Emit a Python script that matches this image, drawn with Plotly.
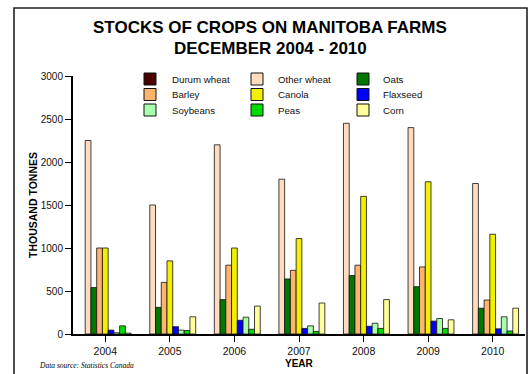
import plotly.graph_objects as go

# Year-end stocks on Manitoba farms, thousand tonnes
years = ["2004", "2005", "2006", "2007", "2008", "2009", "2010"]

durum_wheat = [0, 0, 0, 0, 0, 0, 0]
other_wheat = [2250, 1500, 2200, 1800, 2450, 2400, 1750]
oats = [540, 310, 400, 640, 680, 550, 300]
barley = [1000, 600, 800, 740, 800, 780, 395]
canola = [1000, 850, 1000, 1110, 1600, 1770, 1160]
flaxseed = [45, 85, 160, 65, 90, 150, 60]
soybeans = [15, 45, 195, 95, 125, 180, 200]
peas = [95, 40, 55, 30, 65, 65, 35]
corn = [10, 200, 325, 360, 400, 165, 300]

y_ticks = [0, 500, 1000, 1500, 2000, 2500, 3000]

# (name, values, fill colour) in bar order within each year
series = [
    ("Durum wheat", durum_wheat, "#4a0000"),
    ("Other wheat", other_wheat, "#ffdcc0"),
    ("Oats", oats, "#007800"),
    ("Barley", barley, "#ffb46e"),
    ("Canola", canola, "#f0f000"),
    ("Flaxseed", flaxseed, "#0000ff"),
    ("Soybeans", soybeans, "#aaffaa"),
    ("Peas", peas, "#00dc00"),
    ("Corn", corn, "#ffff99"),
]

# legend grid: rows of series names
legend_rows = [
    ["Durum wheat", "Other wheat", "Oats"],
    ["Barley", "Canola", "Flaxseed"],
    ["Soybeans", "Peas", "Corn"],
]

W, H = 529, 374
L, R, T, B = 73, 4, 76, 40
PW, PH = W - L - R, H - T - B


def px(x):
    return (x - L) / PW


def py(y):
    return (H - B - y) / PH


SANS = "Liberation Sans, Arial, sans-serif"

fig = go.Figure()
for name, vals, color in series:
    # no outline on empty bars so they leave no stub at the baseline
    widths = [0.8 if v > 0 else 0 for v in vals]
    fig.add_trace(go.Bar(
        x=years, y=vals, name=name,
        marker=dict(color=color, line=dict(color="#111111", width=widths)),
        showlegend=False,
    ))

shapes = [
    # outer frame (bottom edge runs off the page)
    dict(type="rect", xref="paper", yref="paper",
         x0=px(14), x1=px(527), y0=py(390), y1=py(8),
         line=dict(color="#222222", width=1.6), fillcolor="rgba(0,0,0,0)", layer="below"),
]
annotations = [
    dict(text="<b>STOCKS OF CROPS ON MANITOBA FARMS</b>", x=px(270), y=py(28),
         font=dict(family=SANS, size=17, color="black")),
    dict(text="<b>DECEMBER 2004 - 2010</b>", x=px(270), y=py(48),
         font=dict(family=SANS, size=17, color="black")),
    dict(text="<b>THOUSAND TONNES</b>", x=px(33), y=py(205), textangle=-90,
         font=dict(family=SANS, size=10.5, color="black")),
    dict(text="<b>YEAR</b>", x=px(299), y=py(363),
         font=dict(family=SANS, size=10, color="black")),
    dict(text="<i>Data source: Statistics Canada</i>", x=px(37), y=py(365), xanchor="left",
         font=dict(family="Liberation Serif, Times New Roman, serif", size=7.5, color="black")),
]

colors = {name: color for name, _, color in series}
col_swatch_x = [144, 251, 357]
col_text_x = [170, 276, 381]
row_y = [79, 94.5, 110]
for r, row in enumerate(legend_rows):
    for c, name in enumerate(row):
        sx, cy = col_swatch_x[c], row_y[r]
        shapes.append(dict(type="rect", xref="paper", yref="paper",
                           x0=px(sx), x1=px(sx + 12), y0=py(cy + 6), y1=py(cy - 6),
                           line=dict(color="#111111", width=1), fillcolor=colors[name]))
        annotations.append(dict(text=name, x=px(col_text_x[c]), y=py(cy), xanchor="left",
                                font=dict(family=SANS, size=9.7, color="#111111")))

for a in annotations:
    a.setdefault("xanchor", "center")
    a.update(xref="paper", yref="paper", yanchor="middle", showarrow=False)

fig.update_layout(
    width=W, height=H,
    margin=dict(l=L, r=R, t=T, b=B),
    paper_bgcolor="white", plot_bgcolor="white",
    barmode="group", bargap=0.2, bargroupgap=0,
    shapes=shapes, annotations=annotations,
    font=dict(family=SANS, color="black"),
)
fig.update_xaxes(
    type="category", range=[-0.5, len(years) - 0.5],
    showline=True, linewidth=2, linecolor="black",
    ticks="outside", ticklen=6, tickwidth=1, tickcolor="black",
    tickfont=dict(family=SANS, size=10.5, color="#111111"),
    showgrid=False, zeroline=False,
)
fig.update_yaxes(
    range=[0, 3000], tickvals=y_ticks,
    showline=True, linewidth=2, linecolor="black",
    ticks="outside", ticklen=6, tickwidth=1, tickcolor="black",
    tickfont=dict(family=SANS, size=10, color="#111111"),
    showgrid=False, zeroline=False,
)

fig.write_html("out.html")
